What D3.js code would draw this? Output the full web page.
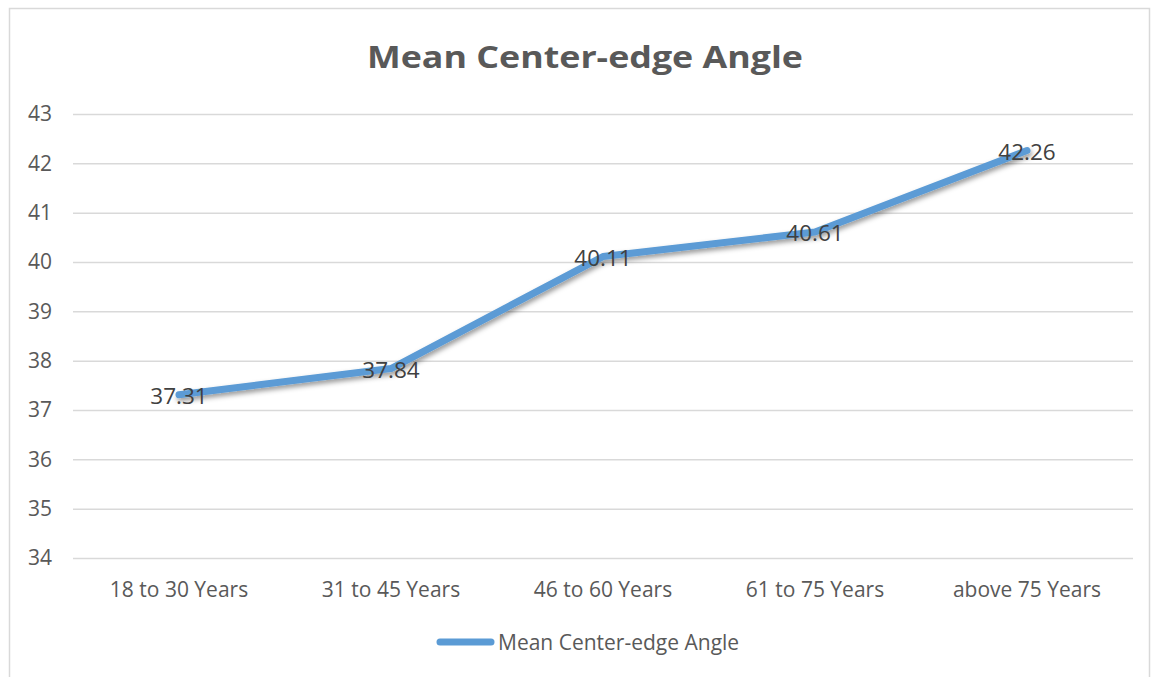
<!DOCTYPE html>
<html><head><meta charset="utf-8">
<script src="https://cdn.jsdelivr.net/npm/d3@7"></script>
<style>body{margin:0;background:#fff;} text{font-family:"Open Sans","Liberation Sans",sans-serif;}</style>
</head><body>
<svg id="c" width="1152" height="677"></svg>
<script>
const categories = ["18 to 30 Years","31 to 45 Years","46 to 60 Years","61 to 75 Years","above 75 Years"];
const values = [37.31, 37.84, 40.11, 40.61, 42.26];
const yTicks = [34,35,36,37,38,39,40,41,42,43];
const seriesName = "Mean Center-edge Angle";
const title = "Mean Center-edge Angle";

const svg = d3.select("#c");
const defs = svg.append("defs");
const f = defs.append("filter").attr("id","sh").attr("x","-10%").attr("y","-10%").attr("width","120%").attr("height","140%");
f.append("feDropShadow").attr("dx",1.5).attr("dy",3).attr("stdDeviation",2.5).attr("flood-color","#000").attr("flood-opacity",0.4);

svg.append("rect").attr("x",9.5).attr("y",8.5).attr("width",1140).attr("height",700)
  .attr("fill","#fff").attr("stroke","#d9d9d9").attr("stroke-width",1.5);

const x = d3.scaleBand().domain(categories).range([73,1133]);
const y = d3.scaleLinear().domain([34,43]).range([558,114]);

svg.append("text").attr("x",585).attr("y",68).attr("text-anchor","middle")
  .attr("font-size",31).attr("font-weight","bold").attr("fill","#595959")
  .attr("textLength",436).attr("lengthAdjust","spacingAndGlyphs").text(title);

const gy = svg.append("g").attr("transform","translate(73,0)")
  .call(d3.axisLeft(y).tickValues(yTicks).tickSize(-1060).tickPadding(21).tickFormat(d3.format("d")));
gy.select(".domain").remove();
gy.selectAll(".tick line").attr("stroke","#d9d9d9").attr("stroke-width",1.5);
gy.selectAll(".tick text").attr("fill","#595959").attr("font-size",21).style("font-family","'Open Sans',sans-serif");

const gx = svg.append("g").attr("transform","translate(0,558)")
  .call(d3.axisBottom(x).tickSize(0).tickPadding(24));
gx.select(".domain").remove();
gx.selectAll(".tick text").attr("fill","#595959").attr("font-size",21).style("font-family","'Open Sans',sans-serif");

const line = d3.line().x((d,i)=>x(categories[i])+x.bandwidth()/2).y(d=>y(d));
svg.append("path").datum(values).attr("d",line).attr("fill","none")
  .attr("stroke","#5b9bd5").attr("stroke-width",7).attr("stroke-linecap","round").attr("stroke-linejoin","round")
  .attr("filter","url(#sh)");

svg.selectAll(".lbl").data(values).enter().append("text").attr("class","lbl")
  .attr("x",(d,i)=>x(categories[i])+x.bandwidth()/2).attr("y",d=>y(d)+9)
  .attr("text-anchor","middle").attr("font-size",22.5).attr("fill","#404040").text(d=>d.toFixed(2));

svg.append("line").attr("x1",440).attr("x2",491).attr("y1",642).attr("y2",642)
  .attr("stroke","#5b9bd5").attr("stroke-width",7).attr("stroke-linecap","round");
svg.append("text").attr("x",498).attr("y",650).attr("font-size",21).attr("fill","#595959").text(seriesName);
</script>
</body></html>
